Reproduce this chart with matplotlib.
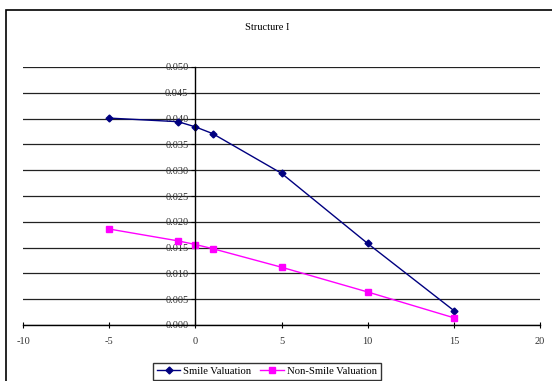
import matplotlib
matplotlib.use('Agg')
import matplotlib.pyplot as plt
from matplotlib.patches import Rectangle

plt.rcParams['font.family'] = ['Liberation Serif', 'DejaVu Serif']
plt.rcParams['axes.unicode_minus'] = False

x_vals = [-5, -1, 0, 1, 5, 10, 15]
smile = [0.0401, 0.0394, 0.0384, 0.0371, 0.0294, 0.0158, 0.0028]
non_smile = [0.0186, 0.0163, 0.0156, 0.0148, 0.0112, 0.0064, 0.0014]
labels = ['Smile Valuation', 'Non-Smile Valuation']
title = 'Structure I'

W, H = 552, 381
fig = plt.figure(figsize=(W / 100, H / 100), dpi=100)

# outer chart frame (cut off on right and bottom like the reference)
fig.patches.append(Rectangle((6 / W, -0.2), 1.0, 1 - 10 / H + 0.2,
                             transform=fig.transFigure, fill=False,
                             edgecolor='black', linewidth=1.2))

ax = fig.add_axes([23 / W, 56 / H, (540 - 23) / W, (325 - 67) / H])
ax.set_xlim(-10, 20)
ax.set_ylim(0, 0.05)

ax.set_yticks([i * 0.005 for i in range(11)])
ax.set_yticklabels(['%.3f' % (i * 0.005) for i in range(11)])
ax.set_xticks(range(-10, 21, 5))
ax.yaxis.grid(True, color='#222222', linewidth=0.9)
ax.set_axisbelow(True)

ax.spines['top'].set_visible(False)
ax.spines['right'].set_visible(False)
ax.spines['left'].set_position(('data', 0))
ax.spines['left'].set_linewidth(1.0)
ax.spines['bottom'].set_linewidth(1.0)
ax.tick_params(axis='y', direction='out', length=3, labelsize=7.5, pad=2,
               colors='black', labelcolor='#333333')
ax.tick_params(axis='x', direction='inout', length=5, labelsize=7.5, pad=6,
               labelcolor='#333333')

ax.plot(x_vals, smile, color='#000080', marker='D', markersize=3.5,
        linewidth=1, label=labels[0], clip_on=False)
ax.plot(x_vals, non_smile, color='#FF00FF', marker='s', markersize=3.8,
        linewidth=1, label=labels[1], clip_on=False)

fig.text(267 / W, 1 - 28 / H, title, ha='center', va='center', fontsize=7.5)

leg = ax.legend(loc='upper left', bbox_to_anchor=(153 / W, 1 - 363 / H),
                bbox_transform=fig.transFigure, ncol=2, fontsize=7.7,
                frameon=True, fancybox=False, handlelength=2.2,
                handletextpad=0.3, columnspacing=0.8, borderpad=0.35,
                borderaxespad=0)
leg.get_frame().set_edgecolor('black')
leg.get_frame().set_linewidth(1.0)

fig.savefig('out.png', dpi=100)
